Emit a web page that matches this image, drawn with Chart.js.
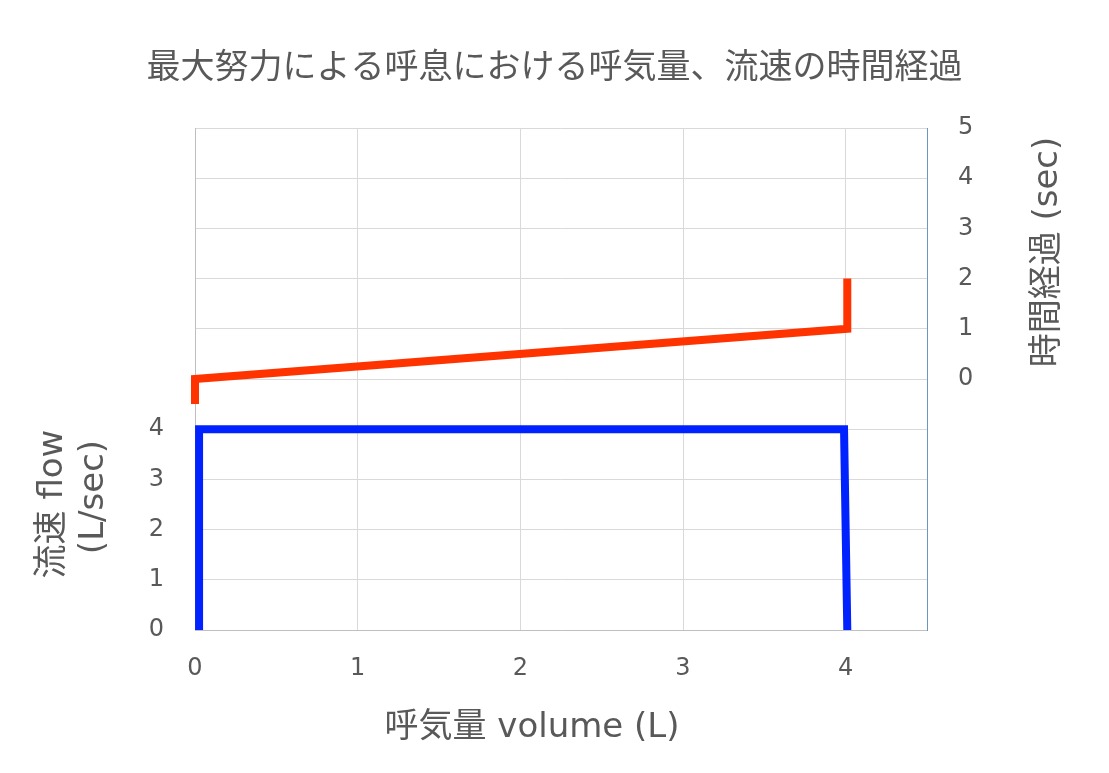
<!DOCTYPE html>
<html>
<head>
<meta charset="utf-8">
<script src="https://cdn.jsdelivr.net/npm/chart.js@4.4.1/dist/chart.umd.min.js"></script>
<style>
html,body{margin:0;padding:0;background:#ffffff;}
#wrap{width:1109px;height:773px;}
</style>
</head>
<body>
<div id="wrap"><canvas id="c" width="1109" height="773"></canvas></div>
<script>
// ---- data ----
const chartTitle = '最大努力による呼息における呼気量、流速の時間経過';
const xTitle = '呼気量 volume (L)';
const flowTitle = ['流速 flow', '(L/sec)'];
const timeTitle = '時間経過 (sec)';

const xTicks = [0, 1, 2, 3, 4];
const flowTicksShown = [0, 1, 2, 3, 4];
const timeTicksShown = [0, 1, 2, 3, 4, 5];

const flowVolume = [0.025, 0.025, 3.99, 4.01];
const flowValues = [0, 4, 4, 0];

const timeVolume = [0, 0, 4.01, 4.01];
const timeValues = [-0.5, 0, 1, 2];

// ---- styling ----
const FONT = '"DejaVu Sans", "Noto Sans CJK JP", sans-serif';
const TEXT = '#595959';

const flowData = flowVolume.map((v, i) => ({x: v, y: flowValues[i]}));
const timeData = timeVolume.map((v, i) => ({x: v, y: timeValues[i]}));

const axisTitles = {
  id: 'axisTitles',
  afterDraw(chart) {
    const ctx = chart.ctx;
    const a = chart.chartArea;
    ctx.save();
    ctx.fillStyle = TEXT;
    ctx.font = '34px ' + FONT;
    ctx.textAlign = 'center';
    ctx.textBaseline = 'middle';
    ctx.fillText(xTitle, 532, a.bottom + 98);
    // left title (two lines, rotated)
    const lpos = [[53, 504], [94, 497]];
    flowTitle.forEach((t, i) => {
      ctx.save();
      ctx.translate(lpos[i][0], lpos[i][1]);
      ctx.rotate(-Math.PI / 2);
      ctx.fillText(t, 0, 0);
      ctx.restore();
    });
    // right title
    ctx.save();
    ctx.translate(1048, 252);
    ctx.rotate(-Math.PI / 2);
    ctx.fillText(timeTitle, 0, 0);
    ctx.restore();
    ctx.restore();
  }
};

new Chart(document.getElementById('c'), {
  type: 'line',
  data: {
    datasets: [
      {
        label: '流速',
        data: flowData,
        yAxisID: 'y',
        borderColor: '#0022ff',
        borderWidth: 8,
        borderCapStyle: 'butt',
        borderJoinStyle: 'miter',
        pointRadius: 0,
        tension: 0,
        fill: false,
        clip: false
      },
      {
        label: '時間経過',
        data: timeData,
        yAxisID: 'y2',
        borderColor: '#ff3300',
        borderWidth: 8,
        borderCapStyle: 'butt',
        borderJoinStyle: 'miter',
        pointRadius: 0,
        tension: 0,
        fill: false,
        clip: false
      }
    ]
  },
  options: {
    responsive: false,
    animation: false,
    devicePixelRatio: 1,
    layout: {padding: 0},
    plugins: {
      legend: {display: false},
      tooltip: {enabled: false},
      title: {
        display: true,
        text: chartTitle,
        color: TEXT,
        font: {family: FONT, size: 34, weight: 'normal', lineHeight: 1.2},
        padding: {top: 49, bottom: 38.2}
      }
    },
    scales: {
      x: {
        type: 'linear',
        position: 'bottom',
        min: 0,
        max: 4.5,
        afterBuildTicks: s => { s.ticks = xTicks.map(v => ({value: v})); },
        afterFit: s => { s.height = 143; },
        grid: {color: '#d9d9d9', lineWidth: 1, drawTicks: false},
        border: {color: '#bfbfbf', width: 1},
        ticks: {padding: 24, color: TEXT, font: {family: FONT, size: 24}, autoSkip: false, maxRotation: 0}
      },
      y: {
        type: 'linear',
        position: 'left',
        min: 0,
        max: 10,
        afterFit: s => { s.width = 195; },
        grid: {color: '#d9d9d9', lineWidth: 1, drawTicks: false},
        border: {color: '#bfbfbf', width: 1},
        ticks: {
          stepSize: 1, padding: 31, color: TEXT, autoSkip: false,
          font: {family: FONT, size: 24},
          callback: v => flowTicksShown.includes(v) ? String(v) : ''
        }
      },
      y2: {
        type: 'linear',
        position: 'right',
        min: -5,
        max: 5,
        afterFit: s => { s.width = 182; },
        grid: {drawOnChartArea: false, drawTicks: false},
        border: {color: '#6f93c4', width: 1},
        ticks: {
          stepSize: 1, padding: 31, color: TEXT, autoSkip: false,
          font: {family: FONT, size: 24},
          callback: v => timeTicksShown.includes(v) ? String(v) : ''
        }
      }
    }
  },
  plugins: [axisTitles]
});
</script>
</body>
</html>
